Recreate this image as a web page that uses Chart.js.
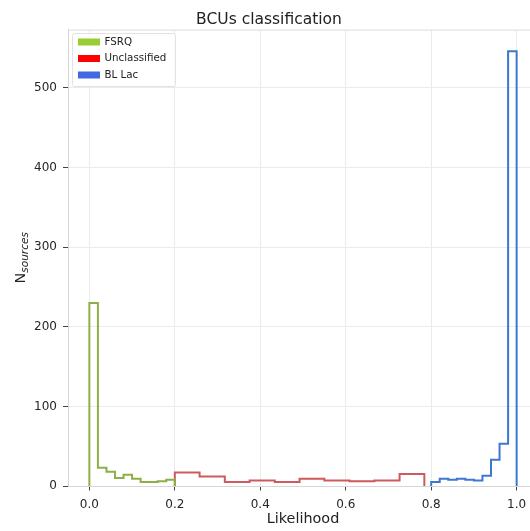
<!DOCTYPE html>
<html>
<head>
<meta charset="utf-8">
<script src="https://cdn.jsdelivr.net/npm/chart.js@4"></script>
<style>
  html, body { margin: 0; padding: 0; background: #fff; overflow: hidden; }
  #wrap { width: 540px; height: 531px; }
</style>
</head>
<body>
<div id="wrap"><canvas id="myChart"></canvas></div>
<script>
// histogram bins
const seriesNames = ['FSRQ', 'Unclassified', 'BL Lac'];
const legendColors = ['#9acd32', '#ff0000', '#4169e1'];
const lineColors = ['#8cb045', '#cd5a5e', '#3c78d2'];

const fsrqEdges = [0.0, 0.02, 0.04, 0.06, 0.08, 0.10, 0.12, 0.14, 0.16, 0.18, 0.20];
const fsrqCounts = [230, 23, 18, 10, 14, 9, 5, 5, 6, 8];

const unclEdges = [0.200, 0.258, 0.317, 0.375, 0.434, 0.492, 0.550, 0.609, 0.667, 0.726, 0.784];
const unclCounts = [17, 12, 5, 7, 5, 9, 7, 6, 7, 15];

const bllacEdges = [0.80, 0.82, 0.84, 0.86, 0.88, 0.90, 0.92, 0.94, 0.96, 0.98, 1.00];
const bllacCounts = [5, 9, 8, 9, 8, 7, 13, 33, 53, 546];

const FONT = '"DejaVu Sans", sans-serif';

// outline of a step histogram (no bottom line)
function stepPoints(edges, counts) {
  const pts = [{x: edges[0], y: 0}];
  counts.forEach((c, i) => pts.push({x: edges[i], y: c}));
  pts.push({x: edges[edges.length - 1], y: counts[counts.length - 1]});
  pts.push({x: edges[edges.length - 1], y: 0});
  return pts;
}

const allEdges = [fsrqEdges, unclEdges, bllacEdges];
const allCounts = [fsrqCounts, unclCounts, bllacCounts];

// frame top, legend box and the y label with its subscript
const extras = {
  id: 'extras',
  afterDraw(chart) {
    const {ctx, chartArea: a} = chart;
    ctx.save();
    ctx.strokeStyle = '#dcdcdc';
    ctx.lineWidth = 1;
    ctx.beginPath();
    ctx.moveTo(a.left, a.top + 0.5);
    ctx.lineTo(a.right, a.top + 0.5);
    ctx.stroke();

    // legend
    ctx.fillStyle = 'rgba(255,255,255,0.8)';
    ctx.strokeStyle = '#e2e2e2';
    ctx.beginPath();
    ctx.roundRect(72.5, 33.5, 103, 53, 2);
    ctx.fill();
    ctx.stroke();
    ctx.font = '10.3px ' + FONT;
    ctx.textBaseline = 'middle';
    ctx.textAlign = 'left';
    seriesNames.forEach((name, i) => {
      const y = 41.5 + i * 16.5;
      ctx.fillStyle = legendColors[i];
      ctx.fillRect(78, y - 3, 22, 7);
      ctx.fillStyle = '#222';
      ctx.fillText(name, 104.5, y + 0.5);
    });

    // y axis title N_sources
    ctx.translate(20, (a.top + a.bottom) / 2);
    ctx.rotate(-Math.PI / 2);
    ctx.textBaseline = 'alphabetic';
    const bigFont = '14.4px ' + FONT;
    const subFont = 'italic 10.5px ' + FONT;
    ctx.font = bigFont;
    const wN = ctx.measureText('N').width;
    ctx.font = subFont;
    const wS = ctx.measureText('sources').width;
    const x0 = -(wN + wS) / 2;
    ctx.fillStyle = '#222';
    ctx.font = bigFont;
    ctx.fillText('N', x0, 5);
    ctx.font = subFont;
    ctx.fillText('sources', x0 + wN, 8);
    ctx.restore();
  }
};

function createChart() {
  const ctx = document.getElementById('myChart').getContext('2d');
  const chart = new Chart(ctx, {
    type: 'line',
    data: {
      datasets: seriesNames.map((name, i) => ({
        label: name,
        data: stepPoints(allEdges[i], allCounts[i]),
        stepped: 'before',
        borderColor: lineColors[i],
        borderWidth: 2,
        pointRadius: 0,
        fill: false
      }))
    },
    options: {
      responsive: true,
      maintainAspectRatio: false,
      animation: false,
      layout: { padding: { left: 0, right: 2, top: 0, bottom: 0 } },
      plugins: {
        legend: { display: false },
        tooltip: { enabled: false },
        title: {
          display: true,
          text: 'BCUs classification',
          color: '#222',
          font: { family: FONT, size: 15.5, weight: 'normal' },
          padding: { top: 11, bottom: 0 }
        }
      },
      scales: {
        x: {
          type: 'linear',
          min: -0.05,
          max: 1.05,
          afterFit: s => { s.height = 45; },
          grid: { color: '#ebebeb', tickColor: '#444', tickLength: 4.5 },
          border: { color: '#d6d6d6' },
          ticks: {
            stepSize: 0.2,
            includeBounds: false,
            maxRotation: 0,
            padding: 7.5,
            color: '#262626',
            font: { family: FONT, size: 12 },
            callback: v => v.toFixed(1)
          },
          title: {
            display: true,
            text: 'Likelihood',
            color: '#222',
            font: { family: FONT, size: 14.4 },
            padding: { top: 0, bottom: 3 }
          }
        },
        y: {
          min: 0,
          max: 573.3,
          afterFit: s => { s.width = 68; },
          grid: { color: '#ebebeb', tickColor: '#444', tickLength: 5 },
          border: { color: '#d6d6d6' },
          ticks: {
            stepSize: 100,
            includeBounds: false,
            padding: 6,
            color: '#262626',
            font: { family: FONT, size: 12 }
          }
        }
      }
    },
    plugins: [extras]
  });
}

document.addEventListener('DOMContentLoaded', function() {
  createChart();
});
</script>
</body>
</html>
